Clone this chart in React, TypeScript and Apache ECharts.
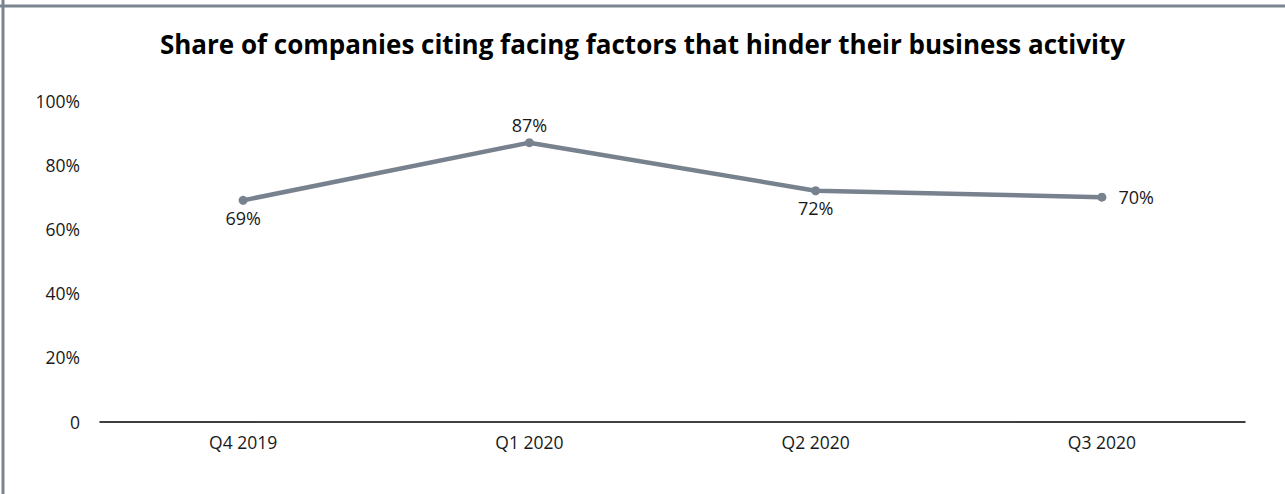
import React, { useEffect, useRef } from "react";
import * as echarts from "echarts";

const categories = ["Q4 2019", "Q1 2020", "Q2 2020", "Q3 2020"];
const shareValues = [69, 87, 72, 70];
const labelPositions = ["bottom", "top", "bottom", "right"];
const yTicks = [0, 20, 40, 60, 80, 100];

export default function App() {
  const ref = useRef<HTMLDivElement>(null);

  useEffect(() => {
    if (!ref.current) return;
    const chart = echarts.init(ref.current, null, { renderer: "svg" });
    const font = "'Open Sans', 'Noto Sans', sans-serif";
    chart.setOption({
      animation: false,
      backgroundColor: "#ffffff",
      title: {
        text: "Share of companies citing facing factors that hinder their business activity",
        left: "center",
        top: 26,
        textStyle: { fontFamily: font, fontWeight: "bold", fontSize: 26, color: "#000000" },
      },
      graphic: [
        { type: "line", shape: { x1: 3, y1: 0, x2: 3, y2: 494 }, style: { stroke: "#7a8591", lineWidth: 3 } },
        { type: "line", shape: { x1: 0, y1: 6, x2: 1285, y2: 6 }, style: { stroke: "#7a8591", lineWidth: 3 } },
      ],
      grid: { left: 100, right: 40, top: 101, bottom: 72.5 },
      xAxis: {
        type: "category",
        data: categories,
        boundaryGap: true,
        axisLine: { show: true, lineStyle: { color: "#000000", width: 1.5 } },
        axisTick: { show: false },
        axisLabel: { fontFamily: font, fontSize: 17.5, color: "#1a1a1a", margin: 11 },
      },
      yAxis: {
        type: "value",
        min: yTicks[0],
        max: yTicks[yTicks.length - 1],
        interval: 20,
        splitLine: { show: false },
        axisLine: { show: false },
        axisTick: { show: false },
        axisLabel: {
          fontFamily: font,
          fontSize: 17.5,
          color: "#1a1a1a",
          margin: 20,
          formatter: (v: number) => (v === 0 ? "0" : v + "%"),
        },
      },
      series: [
        {
          type: "line",
          data: shareValues.map((v, i) => ({
            value: v,
            label: {
              position: labelPositions[i],
              distance: labelPositions[i] === "right" ? 12 : 4,
            },
          })),
          symbol: "circle",
          symbolSize: 9,
          lineStyle: { color: "#77828e", width: 4.5 },
          itemStyle: { color: "#77828e" },
          label: {
            show: true,
            fontFamily: font,
            fontSize: 18,
            color: "#1a1a1a",
            formatter: (p: any) => p.value + "%",
          },
        },
      ],
    });
    return () => chart.dispose();
  }, []);

  return (
    <div
      ref={ref}
      style={{ position: "fixed", left: 0, top: 0, width: 1285, height: 494 }}
    />
  );
}
